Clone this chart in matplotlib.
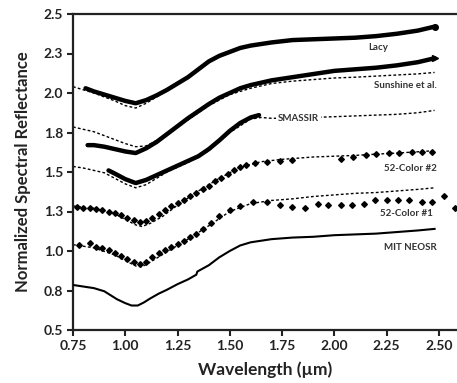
import matplotlib
matplotlib.use("Agg")
import matplotlib.pyplot as plt

plt.rcParams['font.family'] = ['Lato', 'DejaVu Sans']

# ---- Spectra (wavelength in µm, normalized reflectance with vertical offsets) ----
lacy_wl = [0.81, 0.85, 0.90, 0.95, 1.00, 1.05, 1.10, 1.15, 1.20, 1.25, 1.30, 1.35, 1.40,
           1.45, 1.50, 1.55, 1.60, 1.70, 1.80, 1.90, 2.00, 2.10, 2.20, 2.30, 2.40, 2.48]
lacy_refl = [2.03, 2.01, 1.99, 1.97, 1.95, 1.935, 1.955, 1.985, 2.02, 2.06, 2.10, 2.15, 2.20,
             2.235, 2.26, 2.285, 2.30, 2.32, 2.335, 2.34, 2.345, 2.35, 2.36, 2.375, 2.395, 2.42]
lacy_model_wl = [0.75, 0.80, 0.85, 0.90, 0.95, 1.00, 1.05, 1.10, 1.15, 1.20, 1.25]
lacy_model = [2.04, 2.02, 2.00, 1.975, 1.95, 1.92, 1.905, 1.935, 1.975, 2.015, 2.055]

sun_wl = [0.82, 0.85, 0.90, 0.95, 1.00, 1.05, 1.10, 1.15, 1.20, 1.25, 1.30, 1.35, 1.40,
          1.45, 1.50, 1.55, 1.60, 1.70, 1.80, 1.90, 2.00, 2.10, 2.20, 2.30, 2.40, 2.48]
sun_refl = [1.67, 1.67, 1.66, 1.645, 1.63, 1.62, 1.65, 1.69, 1.74, 1.79, 1.84, 1.885, 1.93,
            1.97, 2.00, 2.03, 2.05, 2.08, 2.10, 2.12, 2.14, 2.15, 2.16, 2.175, 2.195, 2.22]
sun_model_wl = [0.75, 0.80, 0.85, 0.90, 0.95, 1.00, 1.05, 1.10, 1.15, 1.20, 1.30, 1.40, 1.50,
                1.60, 1.70, 1.80, 1.90, 2.00, 2.10, 2.20, 2.30, 2.40, 2.48]
sun_model = [1.785, 1.77, 1.755, 1.73, 1.705, 1.68, 1.66, 1.665, 1.70, 1.745, 1.83, 1.92, 1.99,
             2.03, 2.06, 2.075, 2.085, 2.095, 2.10, 2.107, 2.114, 2.121, 2.13]

smass_wl = [0.92, 0.95, 1.00, 1.05, 1.10, 1.15, 1.20, 1.25, 1.30, 1.35, 1.40, 1.45, 1.50,
            1.55, 1.60, 1.64]
smass_refl = [1.51, 1.49, 1.455, 1.43, 1.45, 1.48, 1.51, 1.54, 1.57, 1.60, 1.645, 1.70, 1.76,
              1.81, 1.845, 1.86]
smass_model_wl = [0.75, 0.80, 0.85, 0.90, 0.95, 1.00, 1.05, 1.10, 1.15, 1.20, 1.30, 1.40, 1.50,
                  1.60, 1.65, 1.70, 1.80, 1.90, 2.00, 2.10, 2.20, 2.30, 2.40, 2.48]
smass_model = [1.535, 1.525, 1.51, 1.495, 1.46, 1.425, 1.40, 1.42, 1.46, 1.50, 1.56, 1.635, 1.75,
               1.835, 1.845, 1.84, 1.84, 1.845, 1.85, 1.855, 1.86, 1.865, 1.875, 1.89]

c2_wl = [0.77, 0.80, 0.83, 0.86, 0.89, 0.92, 0.95, 0.98, 1.01, 1.04, 1.07, 1.10, 1.13, 1.16,
         1.19, 1.22, 1.25, 1.28, 1.31, 1.34, 1.37, 1.40, 1.43, 1.46, 1.49, 1.52, 1.55, 1.58,
         1.62, 1.68, 1.74, 1.80, 2.03, 2.09, 2.15, 2.20, 2.26, 2.31, 2.37, 2.42, 2.47]
c2_refl = [1.28, 1.275, 1.27, 1.265, 1.26, 1.25, 1.24, 1.225, 1.21, 1.195, 1.185, 1.19, 1.21,
           1.235, 1.26, 1.285, 1.305, 1.325, 1.345, 1.37, 1.39, 1.41, 1.44, 1.465, 1.49, 1.51,
           1.53, 1.545, 1.555, 1.565, 1.571, 1.576, 1.58, 1.593, 1.61, 1.614, 1.618, 1.622,
           1.625, 1.625, 1.628]
c2_model_wl = [0.75, 0.85, 0.95, 1.00, 1.05, 1.08, 1.12, 1.18, 1.25, 1.35, 1.45, 1.55, 1.65,
               1.75, 1.85, 1.90, 2.00, 2.10, 2.20, 2.30, 2.40, 2.48]
c2_model = [1.285, 1.27, 1.235, 1.20, 1.165, 1.155, 1.175, 1.22, 1.29, 1.38, 1.46, 1.53, 1.565,
            1.58, 1.59, 1.595, 1.60, 1.605, 1.613, 1.62, 1.628, 1.635]

c1_wl = [0.78, 0.83, 0.86, 0.89, 0.92, 0.95, 0.98, 1.01, 1.04, 1.07, 1.10, 1.13, 1.16, 1.19,
         1.22, 1.25, 1.28, 1.31, 1.34, 1.37, 1.41, 1.45, 1.50, 1.55, 1.61, 1.68, 1.74, 1.80,
         1.86, 1.92, 1.97, 2.03, 2.085, 2.14, 2.195, 2.25, 2.305, 2.36, 2.42, 2.47, 2.525, 2.58]
c1_refl = [1.035, 1.05, 1.025, 1.02, 1.005, 0.99, 0.97, 0.95, 0.93, 0.915, 0.93, 0.96, 0.985,
           1.005, 1.025, 1.045, 1.065, 1.09, 1.11, 1.14, 1.18, 1.22, 1.26, 1.285, 1.31, 1.31,
           1.29, 1.28, 1.27, 1.30, 1.29, 1.29, 1.29, 1.30, 1.32, 1.32, 1.32, 1.32, 1.31, 1.31,
           1.35, 1.27]
c1_model_wl = [0.75, 0.85, 0.95, 1.00, 1.05, 1.08, 1.12, 1.20, 1.30, 1.40, 1.50, 1.60, 1.70,
               1.80, 1.90, 2.00, 2.10, 2.20, 2.30, 2.40, 2.48]
c1_model = [1.04, 1.02, 0.975, 0.94, 0.905, 0.90, 0.93, 0.995, 1.075, 1.16, 1.25, 1.30, 1.32,
            1.33, 1.345, 1.355, 1.365, 1.37, 1.38, 1.39, 1.40]

mit_wl = [0.75, 0.80, 0.85, 0.90, 0.93, 0.96, 1.00, 1.03, 1.06, 1.09, 1.12, 1.16, 1.20, 1.25,
          1.30, 1.34, 1.345, 1.40, 1.45, 1.50, 1.55, 1.60, 1.65, 1.70, 1.80, 1.90, 2.00, 2.10,
          2.20, 2.30, 2.40, 2.48]
mit_refl = [0.785, 0.775, 0.765, 0.745, 0.72, 0.695, 0.67, 0.655, 0.655, 0.675, 0.70, 0.73,
            0.755, 0.79, 0.82, 0.85, 0.87, 0.91, 0.96, 1.00, 1.035, 1.055, 1.065, 1.075, 1.085,
            1.09, 1.10, 1.105, 1.11, 1.12, 1.13, 1.14]

series_labels = ["Lacy", "Sunshine et al.", "SMASSIR", "52-Color #2", "52-Color #1", "MIT NEOSR"]
label_wl = [2.21, 2.49, 1.83, 2.49, 2.47, 2.49]
label_refl = [2.285, 2.05, 1.84, 1.525, 1.24, 1.025]
label_align = ["center", "right", "center", "right", "right", "right"]

x_ticks = [0.75, 1.00, 1.25, 1.50, 1.75, 2.00, 2.25, 2.50]
x_ticklabels = ["0.75", "1.00", "1.25", "1.50", "1.75", "2.00", "2.25", "2.50"]
y_ticks = [0.5, 0.75, 1.0, 1.25, 1.5, 1.75, 2.0, 2.25, 2.5]
y_ticklabels = ["0.5", "0.8", "1.0", "1.3", "1.5", "1.8", "2.0", "2.3", "2.5"]

# ---- Figure ----
fig = plt.figure(figsize=(4.57, 3.83), dpi=100)
ax = fig.add_axes([73 / 457, 1 - 330 / 383, 384 / 457, 316 / 383])

model_style = dict(color="black", lw=1.0, ls=(0, (2.0, 1.6)), zorder=2)
thick_style = dict(color="black", lw=3.2, solid_capstyle="round", solid_joinstyle="round", zorder=3)

# model / comparison lines underneath
ax.plot(lacy_model_wl, lacy_model, **model_style)
ax.plot(sun_model_wl, sun_model, **model_style)
ax.plot(smass_model_wl, smass_model, **model_style)
ax.plot(c2_model_wl, c2_model, **model_style)
ax.plot(c1_model_wl, c1_model, **model_style)

# measured spectra
ax.plot(lacy_wl, lacy_refl, marker="o", markersize=4, markevery=[len(lacy_wl) - 1], **thick_style)
ax.plot(sun_wl, sun_refl, marker=">", markersize=4, markevery=[len(sun_wl) - 1], **thick_style)
ax.plot(smass_wl, smass_refl, **thick_style)
ax.plot(c2_wl, c2_refl, ls="none", marker="D", markersize=2.9, color="black", zorder=3)
ax.plot(c1_wl, c1_refl, ls="none", marker="D", markersize=2.9, color="black", zorder=3)
ax.plot(mit_wl, mit_refl, color="black", lw=1.5, zorder=3)

for txt, xw, yr, ha in zip(series_labels, label_wl, label_refl, label_align):
    bbox = dict(facecolor="white", edgecolor="none", pad=1.5) if txt == "SMASSIR" else None
    ax.text(xw, yr, txt, ha=ha, va="center", fontsize=7, fontweight="bold",
            color="#333333", bbox=bbox, zorder=4)

ax.set_xlim(0.75, 0.75 + 384 / 209)
ax.set_ylim(0.5, 2.5)
ax.set_xticks(x_ticks)
ax.set_xticklabels(x_ticklabels)
ax.set_yticks(y_ticks)
ax.set_yticklabels(y_ticklabels)

for side in ("top", "left", "bottom"):
    ax.spines[side].set_linewidth(1.6)
    ax.spines[side].set_color("#222222")
ax.spines["right"].set_visible(False)

ax.tick_params(direction="out", length=4, width=1.5, colors="#222222", pad=3)
for lab in ax.get_xticklabels() + ax.get_yticklabels():
    lab.set_fontsize(10)
    lab.set_fontweight("bold")
    lab.set_color("#222222")

ax.set_xlabel("Wavelength (µm)", fontsize=12.5, fontweight="bold", color="#222222", labelpad=7)
ax.set_ylabel("Normalized Spectral Reflectance", fontsize=12, fontweight="bold",
              color="#222222", labelpad=9)

fig.savefig("out.png", dpi=100)
